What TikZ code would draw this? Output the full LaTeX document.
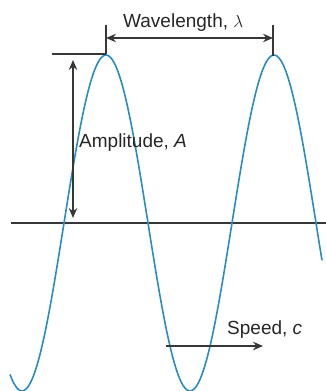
\documentclass[tikz,border=0pt]{standalone}
\usepackage{fontspec}
\setmainfont{Liberation Sans}
\usetikzlibrary{arrows.meta}
\definecolor{waveblue}{RGB}{42,140,196}
\definecolor{linegray}{RGB}{55,55,55}
\begin{document}
\begin{tikzpicture}[x=1pt,y=-1pt,
    wave/.style={draw=waveblue,line width=1.6pt},
    guide/.style={draw=linegray,line width=1.3pt},
    dim/.style={guide,{Stealth[length=10pt,width=8.5pt]}-{Stealth[length=10pt,width=8.5pt]}},
    push/.style={guide,-{Stealth[length=10pt,width=8.5pt]}},
    lbl/.style={anchor=base west,inner sep=0pt,text=black!85,font=\fontsize{19}{23}\selectfont}]
    \useasboundingbox (0,0) rectangle (326,391);
    \coordinate (axisL) at (11,223);
    \coordinate (axisR) at (326,223);
    \coordinate (peakA) at (106,54);
    \coordinate (peakB) at (273,56);
    \coordinate (tickA) at (106,25);
    \coordinate (tickB) at (273,25);
    \coordinate (waveL) at (106,38);
    \coordinate (waveR) at (273,38);
    \coordinate (ampL) at (52,54);
    \coordinate (ampT) at (73,60);
    \coordinate (ampB) at (73,218);
    \coordinate (speedL) at (166,346);
    \coordinate (speedR) at (263,346);
    \draw [guide] (axisL) -- (axisR);
    \draw [wave] plot [domain=10:322,samples=160,smooth] (\x,{223-168*cos(2.142857*(\x-106))});
    \draw [guide] (peakA) -- (tickA);
    \draw [guide] (peakB) -- (tickB);
    \draw [guide] (ampL) -- (peakA);
    \draw [dim] (waveL) -- (waveR);
    \draw [dim] (ampT) -- (ampB);
    \draw [push] (speedL) -- (speedR);
    \node (wavelength) [lbl] at (123,27) {Wavelength, $\lambda$};
    \node (amplitude) [lbl] at (79,147) {Amplitude, \textit{A}};
    \node (speed) [lbl] at (227,334) {Speed, \textit{c}};
\end{tikzpicture}
\end{document}
